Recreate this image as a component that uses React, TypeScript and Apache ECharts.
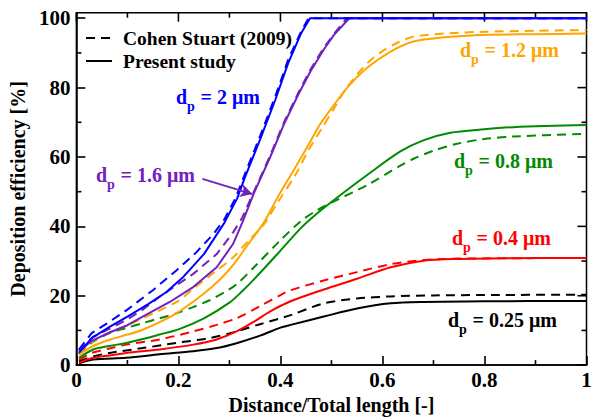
import React, { useEffect, useRef } from "react";
import * as echarts from "echarts";

// ---------- data (X: distance/total length, Y: deposition efficiency %) ----------
const xTicks = [0, 0.2, 0.4, 0.6, 0.8, 1];
const xMinorTicks = [0.1, 0.3, 0.5, 0.7, 0.9];
const yTicks = [0, 20, 40, 60, 80, 100];
const yMinorTicks = [10, 30, 50, 70, 90];
const yTop = 101.6;

const d2Cohen: number[][] = [[0.005,4.5],[0.03,9.2],[0.065,12.5],[0.1,16],[0.15,21.6],[0.196,27.3],[0.235,32.5],[0.268,37.7],[0.29,42],[0.313,48.5],[0.33,55],[0.36,66],[0.39,77.5],[0.415,88],[0.44,96],[0.455,100],[1,100]];
const d2Present: number[][] = [[0.005,3.5],[0.03,7.8],[0.065,11],[0.1,14],[0.14,17.5],[0.176,21],[0.21,25.5],[0.25,32],[0.29,41],[0.315,48],[0.33,54],[0.36,65],[0.39,76.5],[0.415,87],[0.44,95.5],[0.458,100],[1,100]];

const d16Cohen: number[][] = [[0.005,4.2],[0.033,8.2],[0.065,10.5],[0.098,13],[0.13,16],[0.163,19.7],[0.229,26.3],[0.275,32],[0.307,38.2],[0.325,42.5],[0.348,50],[0.38,60.5],[0.407,70],[0.435,78.5],[0.46,85.5],[0.485,91.5],[0.505,95.5],[0.53,100],[1,100]];
const d16Present: number[][] = [[0.005,3.9],[0.03,7],[0.065,9.4],[0.1,11.5],[0.13,14],[0.183,18.2],[0.229,22.5],[0.275,28.2],[0.307,34.9],[0.325,41],[0.348,49.6],[0.38,60],[0.407,69.5],[0.435,78],[0.459,84.7],[0.485,91],[0.505,95.2],[0.535,100],[1,100]];

const d12Cohen: number[][] = [[0.005,3.5],[0.033,7],[0.065,9.4],[0.1,11.5],[0.13,13.5],[0.163,15.8],[0.2,18.5],[0.229,22],[0.275,27.3],[0.307,31],[0.335,35.5],[0.367,40.5],[0.395,47],[0.43,55],[0.455,62],[0.48,68],[0.505,74],[0.53,80],[0.57,87],[0.6,90.5],[0.63,93],[0.661,94.7],[0.72,95.6],[0.8,96.1],[0.9,96.4],[1,96.6]];
const d12Present: number[][] = [[0.005,3],[0.033,5.5],[0.065,7.3],[0.1,8.8],[0.13,10.2],[0.19,14.4],[0.242,19.7],[0.281,24.6],[0.307,28.8],[0.335,34.5],[0.367,41],[0.395,48.5],[0.426,56.2],[0.455,63.5],[0.478,69.5],[0.505,75],[0.531,80],[0.57,85.7],[0.616,90.4],[0.661,93.3],[0.72,94.5],[0.792,95.2],[0.9,95.4],[1,95.6]];

const d08Cohen: number[][] = [[0.005,3.1],[0.03,6.5],[0.065,9.2],[0.098,10.7],[0.13,12.1],[0.163,13.5],[0.196,14.9],[0.23,16.8],[0.261,18.7],[0.29,21],[0.314,23.3],[0.35,28.5],[0.4,36],[0.44,41.5],[0.47,44.5],[0.505,47.2],[0.57,51.9],[0.635,57.5],[0.661,59.5],[0.7,61.8],[0.746,63.8],[0.8,65.2],[0.857,65.9],[1,66.7]];
const d08Present: number[][] = [[0.005,2.1],[0.033,4.5],[0.065,5.5],[0.098,6.4],[0.13,7.5],[0.163,8.8],[0.2,10.3],[0.25,13.5],[0.3,18],[0.325,21.3],[0.35,25],[0.4,33],[0.44,39.5],[0.47,43.5],[0.505,47.6],[0.57,54.8],[0.635,61.6],[0.68,64.8],[0.733,67],[0.8,68],[0.857,68.6],[1,69.2]];

const d04Cohen: number[][] = [[0.005,1.5],[0.03,3.5],[0.065,4.8],[0.098,5.9],[0.163,7.4],[0.229,9.7],[0.275,11.6],[0.314,13.5],[0.36,17],[0.4,20.2],[0.42,21.6],[0.485,24.4],[0.55,26.8],[0.616,29.1],[0.681,30.3],[0.75,30.7],[1,30.9]];
const d04Present: number[][] = [[0.005,0.7],[0.033,2.1],[0.065,2.8],[0.098,3.5],[0.163,4.5],[0.229,5.9],[0.275,7.4],[0.314,9.7],[0.35,12.7],[0.38,15.5],[0.42,18.4],[0.485,21.8],[0.55,24.9],[0.616,28.2],[0.681,30.1],[0.75,30.6],[0.85,30.8],[1,30.9]];

const d025Cohen: number[][] = [[0.005,1.1],[0.033,2.5],[0.065,3.5],[0.13,4.9],[0.196,6.4],[0.261,7.8],[0.314,9.7],[0.36,11.8],[0.42,14.4],[0.485,17.8],[0.55,19.2],[0.616,19.8],[0.7,20.1],[0.8,20.2],[1,20.3]];
const d025Present: number[][] = [[0.005,0.5],[0.033,1.6],[0.098,2.1],[0.163,3.1],[0.229,4],[0.275,4.9],[0.314,6.3],[0.36,8.5],[0.4,10.8],[0.42,11.6],[0.485,14],[0.55,16.3],[0.616,17.8],[0.681,18.2],[0.8,18.4],[1,18.5]];

// arrow pointing to the 1.6 um curve (data coords)
const arrowStart = [0.247, 53.7];
const arrowEnd = [0.345, 49.3];

const legendLabels = ["Cohen Stuart (2009)", "Present study"];
const sizeLabels = ["2", "1.6", "1.2", "0.8", "0.4", "0.25"];

// ---------- styles ----------
const FONT = "'Liberation Serif', 'Times New Roman', Times, serif";
const C_BLUE = "#0000ff";
const C_PURPLE = "#7221bc";
const C_ORANGE = "#ffa500";
const C_GREEN = "#008b00";
const C_RED = "#ff0000";
const C_BLACK = "#000000";
const DASH = [9, 6];
const TW = 1.6;
const MAJOR_LEN = 9;
const MINOR_LEN = 5;

function lineSeries(data: number[][], color: string, dashed: boolean, smooth: boolean | number, extra: any = {}) {
  return {
    type: "line",
    data,
    symbol: "none",
    showSymbol: false,
    smooth,
    lineStyle: { color, width: 2, type: dashed ? DASH : "solid" },
    itemStyle: { color },
    ...extra,
  };
}

// one small inward tick per data point, placed through the axis scales
function tickSeries(points: number[][], dir: "up" | "down" | "left" | "right", len: number) {
  return {
    type: "custom",
    data: points,
    renderItem: (params: any, api: any) => {
      const p = api.coord([api.value(0), api.value(1)]);
      let shape;
      if (dir === "up") shape = { x: p[0] - TW / 2, y: p[1] - len, width: TW, height: len };
      else if (dir === "down") shape = { x: p[0] - TW / 2, y: p[1], width: TW, height: len };
      else if (dir === "right") shape = { x: p[0], y: p[1] - TW / 2, width: len, height: TW };
      else shape = { x: p[0] - len, y: p[1] - TW / 2, width: len, height: TW };
      return { type: "rect", shape, style: { fill: "#000" } };
    },
  };
}

function sizeLabel(x: number, y: number, value: string, color: string) {
  const common = { fill: color, fontFamily: FONT, fontWeight: "bold" };
  return [
    { type: "text", x, y, style: { ...common, text: "d", fontSize: 20, verticalAlign: "middle", align: "left" } },
    { type: "text", x: x + 11, y: y + 9.5, style: { ...common, text: "p", fontSize: 14, verticalAlign: "middle", align: "left" } },
    { type: "text", x: x + 19.5, y, style: { ...common, text: " = " + value + " \u03bcm", fontSize: 20, verticalAlign: "middle", align: "left" } },
  ];
}

export default function App() {
  const ref = useRef<HTMLDivElement>(null);

  useEffect(() => {
    if (!ref.current) return;
    const chart = echarts.init(ref.current, undefined, { renderer: "svg" });

    const labelStyle = { color: "#000", fontFamily: FONT, fontWeight: "bold", fontSize: 21 };
    const xMin = xTicks[0];
    const xMax = xTicks[xTicks.length - 1];
    const yMin = yTicks[0];

    const option: any = {
      animation: false,
      grid: { left: 76, right: 9.5, top: 12.7, bottom: 50.5, show: true, borderColor: "#000", borderWidth: 1.5, backgroundColor: "transparent" },
      xAxis: {
        type: "value", min: xMin, max: xMax, interval: 0.2,
        axisLine: { show: true, onZero: false, lineStyle: { color: "#000", width: 1.5 } },
        axisTick: { show: true, inside: true, length: MAJOR_LEN, lineStyle: { color: "#000", width: TW } },
        splitLine: { show: false },
        axisLabel: { ...labelStyle, margin: 4 },
        name: "Distance/Total length [-]", nameLocation: "middle", nameGap: 22,
        nameTextStyle: { ...labelStyle, fontSize: 20 },
      },
      yAxis: {
        type: "value", min: yMin, max: yTop, interval: 20,
        axisLine: { show: true, onZero: false, lineStyle: { color: "#000", width: 1.5 } },
        axisTick: { show: true, inside: true, length: MAJOR_LEN, lineStyle: { color: "#000", width: TW } },
        splitLine: { show: false },
        axisLabel: { ...labelStyle, margin: 6, showMaxLabel: false },
        name: "Deposition efficiency [%]", nameLocation: "middle", nameGap: 42,
        nameTextStyle: { ...labelStyle, fontSize: 20 },
      },
      series: [
        tickSeries(xMinorTicks.map((v) => [v, yMin]), "up", MINOR_LEN),
        tickSeries(xTicks.map((v) => [v, yTop]), "down", MAJOR_LEN),
        tickSeries(xMinorTicks.map((v) => [v, yTop]), "down", MINOR_LEN),
        tickSeries(yMinorTicks.map((v) => [xMin, v]), "right", MINOR_LEN),
        tickSeries(yTicks.map((v) => [xMax, v]), "left", MAJOR_LEN),
        tickSeries(yMinorTicks.map((v) => [xMax, v]), "left", MINOR_LEN),
        lineSeries(d025Cohen, C_BLACK, true, 0.3),
        lineSeries(d025Present, C_BLACK, false, 0.3),
        lineSeries(d04Cohen, C_RED, true, 0.3),
        lineSeries(d04Present, C_RED, false, 0.3),
        lineSeries(d08Cohen, C_GREEN, true, 0.3),
        lineSeries(d08Present, C_GREEN, false, 0.3),
        lineSeries(d12Cohen, C_ORANGE, true, 0.3),
        lineSeries(d12Present, C_ORANGE, false, 0.3),
        lineSeries(d16Cohen, C_PURPLE, true, false),
        lineSeries(d16Present, C_PURPLE, false, false, {
          markLine: {
            silent: true,
            symbol: ["none", "arrow"],
            symbolSize: [10, 12],
            label: { show: false },
            lineStyle: { color: C_PURPLE, width: 2, type: "solid" },
            data: [[{ coord: arrowStart }, { coord: arrowEnd }]],
          },
        }),
        lineSeries(d2Cohen, C_BLUE, true, false),
        lineSeries(d2Present, C_BLUE, false, false),
      ],
      graphic: [
        { type: "line", shape: { x1: 86, y1: 38, x2: 112, y2: 38 }, style: { stroke: "#000", lineWidth: 2, lineDash: DASH } },
        { type: "line", shape: { x1: 86, y1: 61, x2: 112, y2: 61 }, style: { stroke: "#000", lineWidth: 2 } },
        { type: "text", x: 123, y: 38, style: { text: legendLabels[0], fill: "#000", fontFamily: FONT, fontWeight: "bold", fontSize: 19.5, verticalAlign: "middle" } },
        { type: "text", x: 123, y: 61, style: { text: legendLabels[1], fill: "#000", fontFamily: FONT, fontWeight: "bold", fontSize: 19.5, verticalAlign: "middle" } },
        ...sizeLabel(176, 97, sizeLabels[0], C_BLUE),
        ...sizeLabel(96, 175, sizeLabels[1], C_PURPLE),
        ...sizeLabel(460, 50, sizeLabels[2], C_ORANGE),
        ...sizeLabel(454, 161, sizeLabels[3], C_GREEN),
        ...sizeLabel(452, 238, sizeLabels[4], C_RED),
        ...sizeLabel(448, 320, sizeLabels[5], C_BLACK),
      ],
    };

    chart.setOption(option);
    return () => chart.dispose();
  }, []);

  return <div ref={ref} style={{ position: "absolute", left: 0, top: 0, width: 596, height: 420 }} />;
}
